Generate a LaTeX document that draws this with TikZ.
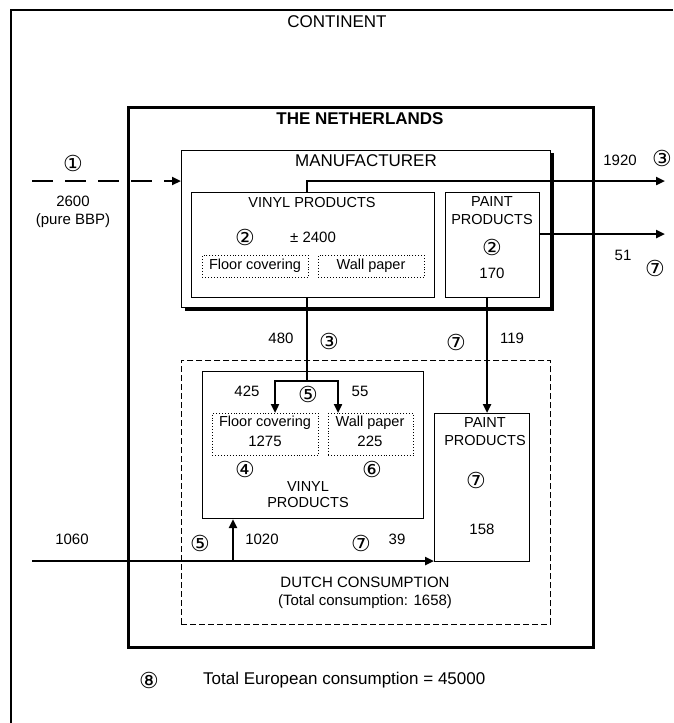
\documentclass[tikz,border=0pt]{standalone}
\usepackage{fontspec}
\setmainfont{Liberation Sans}
\newfontfamily\circfont{DejaVu Sans}
\usetikzlibrary{arrows.meta,calc}
\begin{document}
\begin{tikzpicture}[x=1pt,y=-1pt,
  box/.style={draw, line width=1.2pt, inner sep=0pt, anchor=north west},
  thinbox/.style={draw, line width=0.9pt, inner sep=0pt, anchor=north west},
  dotbox/.style={draw, dotted, line width=0.9pt, inner sep=0pt, anchor=north west},
  dashbox/.style={draw, dash pattern=on 6pt off 3pt, line width=0.9pt, inner sep=0pt, anchor=north west},
  flow/.style={line width=2.6pt, -{Triangle[length=9pt,width=8pt]}},
  flowline/.style={line width=2.6pt},
  big/.style={font=\fontsize{17}{19}\selectfont, inner sep=0pt},
  bigb/.style={font=\bfseries\fontsize{17}{19}\selectfont, inner sep=0pt},
  mid/.style={font=\fontsize{14.5}{17}\selectfont, inner sep=0pt},
  num/.style={font=\fontsize{15}{17}\selectfont, inner sep=0pt},
  circ/.style={font=\circfont\fontsize{22}{22}\selectfont, inner sep=0pt}
]
\useasboundingbox (0,0) rectangle (673,723);
\fill[white] (0,0) rectangle (673,723);

% continent frame
\coordinate (ctr) at (673,10);
\coordinate (ctl) at (11,10);
\coordinate (cbl) at (11,723);
\draw[line width=1.2pt] (ctr) -- (ctl) -- (cbl);
\node[big] (continent) at (337,22) {CONTINENT};

% The Netherlands
\node[box, line width=3pt, minimum width=465pt, minimum height=540pt] (nl) at (127,106) {};
\node[bigb] (nltitle) at (360,119) {THE NETHERLANDS};

% Manufacturer
\node[thinbox, minimum width=369pt, minimum height=157pt] (manu) at (181,150) {};
\draw[line width=3pt] ($(manu.south west)+(4,2)$) -- ($(manu.south east)+(2,2)$) -- ($(manu.north east)+(2,3)$);
\node[big] (manutitle) at (366,161) {MANUFACTURER};

\node[box, minimum width=243pt, minimum height=105pt] (vinyl1) at (191,192) {};
\node[mid] (v1t) at (312,203) {VINYL PRODUCTS};
\node[circ] (c2a) at (245,237) {②};
\node[num] (n2400) at (313,237) {± 2400};
\node[dotbox, minimum width=106pt, minimum height=22pt] (floor1) at (202,255) {};
\node[mid] (floor1t) at (255,266) {Floor covering};
\node[dotbox, minimum width=106pt, minimum height=22pt] (wall1) at (318,255) {};
\node[mid] (wall1t) at (371,266) {Wall paper};

\node[box, minimum width=94pt, minimum height=105pt] (paint1) at (445,192) {};
\node[mid] (p1a) at (492,202) {PAINT};
\node[mid] (p1b) at (492,220) {PRODUCTS};
\node[circ] (c2b) at (492,247) {②};
\node[num] (n170) at (492,273) {170};

% Dutch consumption
\node[dashbox, minimum width=369pt, minimum height=264pt] (dutch) at (181,360) {};
\node[num] (dutcht) at (365,582) {DUTCH CONSUMPTION};
\node[num] (dutcht2) at (365,602) {(Total consumption: 1658)};

\node[box, minimum width=221pt, minimum height=147pt] (vinyl2) at (202,371) {};
\node[dotbox, minimum width=106pt, minimum height=42pt] (floor2) at (212,413) {};
\node[mid] (floor2t) at (265,423) {Floor covering};
\node[num] (n1275) at (265,441) {1275};
\node[dotbox, minimum width=85pt, minimum height=42pt] (wall2) at (328,413) {};
\node[mid] (wall2t) at (370,423) {Wall paper};
\node[num] (n225) at (370,441) {225};
\node[circ] (c4) at (245,469) {④};
\node[circ] (c6) at (372,469) {⑥};
\node[mid] (v2a) at (308,487) {VINYL};
\node[mid] (v2b) at (308,503) {PRODUCTS};

\node[box, minimum width=95pt, minimum height=148pt] (paint2) at (434,413) {};
\node[mid] (p2a) at (485,423) {PAINT};
\node[mid] (p2b) at (485,441) {PRODUCTS};
\node[circ] (c7c) at (476,480) {⑦};
\node[num] (n158) at (482,529) {158};

% helper coordinates
\coordinate (x233) at (233,0);
\coordinate (x275) at (275,0);
\coordinate (x307) at (307,0);
\coordinate (x338) at (338,0);
\coordinate (x487) at (487,0);
\coordinate (y234) at (0,234);
\coordinate (in1) at (32,181);
\coordinate (in2) at (32,561);
\coordinate (out1) at (665,181);
\coordinate (out2) at (665,234);
\coordinate (split) at (307,381);

% input 2600 (dashed)
\draw[flow, dash pattern=on 21pt off 12pt] (in1) -- (manu.west |- in1);
\node[circ] (c1) at (73,163) {①};
\node[num] (n2600) at (73,201) {2600};
\node[num] (npure) at (73,221) {(pure BBP)};

% export 1920
\draw[flow] (vinyl1.north -| x307) |- (out1);
\node[num] (n1920) at (620,160) {1920};
\node[circ] (c3a) at (662,158) {③};

% export 51
\draw[flow] (paint1.east |- y234) -- (out2);
\node[num] (n51) at (623,255) {51};
\node[circ] (c7a) at (655,268) {⑦};

% 480 to Dutch vinyl
\draw[flowline] (vinyl1.south -| x307) -- (split);
\draw[flow] (split) -| (floor2.north -| x275);
\draw[flow] (split) -| (wall2.north -| x338);
\node[num] (n480) at (281,338) {480};
\node[circ] (c3b) at (329,341) {③};
\node[num] (n425) at (247,391) {425};
\node[circ] (c5a) at (308,394) {⑤};
\node[num] (n55) at (360,391) {55};

% 119 paint
\draw[flow] (paint1.south -| x487) -- (paint2.north -| x487);
\node[num] (n119) at (512,338) {119};
\node[circ] (c7b) at (456,342) {⑦};

% import 1060
\draw[flow] (in2) -- (paint2.west |- in2);
\draw[flow] (in2 -| x233) -- (vinyl2.south -| x233);
\node[num] (n1060) at (72,539) {1060};
\node[circ] (c5b) at (200,543) {⑤};
\node[num] (n1020) at (262,539) {1020};
\node[circ] (c7d) at (361,543) {⑦};
\node[num] (n39) at (397,539) {39};

% total
\node[circ] (c8) at (149,680) {⑧};
\node[big, anchor=west] (total) at (203,680) {Total European consumption = 45000};
\end{tikzpicture}
\end{document}
